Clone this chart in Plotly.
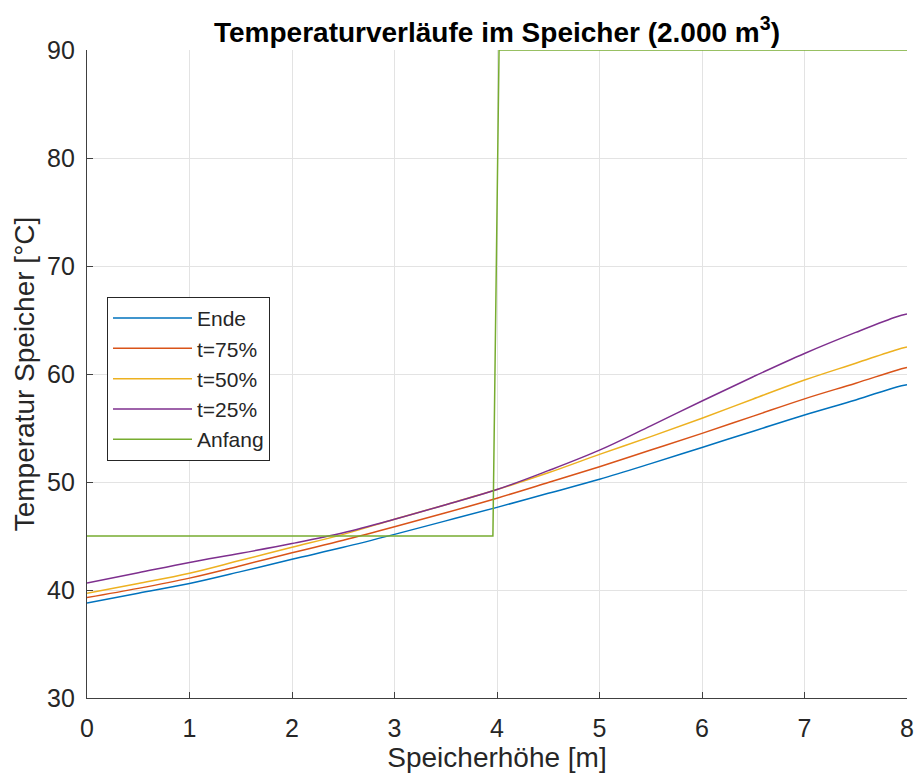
import plotly.graph_objects as go

# ── Data ───────────────────────────────────────────────────────────────────────
hoehe = [0, 0.5, 1, 1.5, 2, 2.5, 3, 3.5, 4, 4.5, 5, 5.5, 6, 6.5, 7, 7.5, 7.9, 8]

ende = [38.8, 39.7, 40.6, 41.7, 42.85, 43.95, 45.15, 46.4, 47.65, 48.95,
        50.25, 51.7, 53.2, 54.7, 56.2, 57.6, 58.8, 59.0]
t75 = [39.3, 40.15, 41.1, 42.25, 43.45, 44.6, 45.85, 47.15, 48.5, 49.95,
       51.42, 52.96, 54.5, 56.1, 57.7, 59.15, 60.35, 60.6]
t50 = [39.7, 40.6, 41.55, 42.75, 43.95, 45.15, 46.55, 47.9, 49.3, 50.85,
       52.56, 54.2, 55.9, 57.69, 59.44, 61.0, 62.25, 62.5]
t25 = [40.65, 41.6, 42.55, 43.4, 44.3, 45.3, 46.55, 47.9, 49.3, 51.05,
       52.95, 55.2, 57.5, 59.75, 61.9, 63.85, 65.3, 65.55]

anfang_x = [0, 3.96, 4.02, 8]
anfang_y = [45, 45, 90, 90]

x_ticks = [0, 1, 2, 3, 4, 5, 6, 7, 8]
y_ticks = [30, 40, 50, 60, 70, 80, 90]

# MATLAB default colour order
_SERIES = [
    ("Ende",   "#0072BD", hoehe, ende, "spline"),
    ("t=75%",  "#D95319", hoehe, t75, "spline"),
    ("t=50%",  "#EDB120", hoehe, t50, "spline"),
    ("t=25%",  "#7E2F8E", hoehe, t25, "spline"),
    ("Anfang", "#77AC30", anfang_x, anfang_y, "linear"),
]

FONT = "Liberation Sans, Arial, sans-serif"
AXIS_COL = "#404040"
TXT_COL = "#262626"

fig = go.Figure()
for name, color, xs, ys, shape in _SERIES:
    fig.add_trace(go.Scatter(
        x=xs, y=ys, name=name, mode="lines",
        line=dict(color=color, width=1.5, shape=shape, smoothing=1.0),
    ))

axis_common = dict(
    showgrid=True,
    gridcolor="#e3e3e3",
    gridwidth=1,
    zeroline=False,
    showline=True,
    linecolor=AXIS_COL,
    linewidth=1.3,
    ticks="inside",
    ticklen=6,
    tickcolor=AXIS_COL,
    tickfont=dict(family=FONT, size=25, color=TXT_COL),
    mirror=False,
    automargin=False,
)

fig.update_layout(
    width=915,
    height=780,
    paper_bgcolor="white",
    plot_bgcolor="white",
    font=dict(family=FONT, color=TXT_COL),
    title=dict(
        text="<b>Temperaturverläufe im Speicher (2.000 m<sup>3</sup>)</b>",
        font=dict(family=FONT, size=28, color="black"),
        x=(87 + 820 / 2) / 915, xanchor="center",
        y=1 - 32 / 780, yanchor="middle",
    ),
    xaxis=dict(
        **axis_common,
        range=[0, 8],
        tickvals=x_ticks,
        ticklabelstandoff=8,
        title=dict(text="Speicherhöhe [m]", font=dict(family=FONT, size=28, color=TXT_COL),
                   standoff=6),
    ),
    yaxis=dict(
        **axis_common,
        range=[30, 90],
        tickvals=y_ticks,
        ticklabelstandoff=6,
        title=dict(text="Temperatur Speicher [°C]", font=dict(family=FONT, size=28, color=TXT_COL),
                   standoff=4),
    ),
    legend=dict(
        x=0.0244, y=0.619, xanchor="left", yanchor="top",
        bgcolor="white",
        bordercolor=TXT_COL,
        borderwidth=1,
        font=dict(family=FONT, size=21, color=TXT_COL),
        tracegroupgap=0,
        itemwidth=79,
    ),
    margin=dict(l=87, r=8, t=50, b=82),
    showlegend=True,
)

# remove the browser's default 8px body margin so the figure sits at (0, 0)
fig.write_html("out.html", config={"displayModeBar": False},
               post_script="document.body.style.margin='0';")
